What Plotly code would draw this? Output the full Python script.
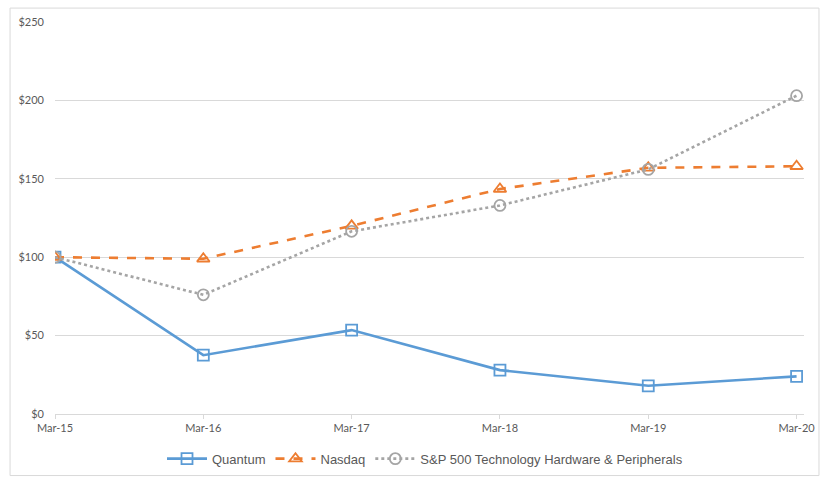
import plotly.graph_objects as go

# values
years = ["Mar-15", "Mar-16", "Mar-17", "Mar-18", "Mar-19", "Mar-20"]
quantum = [100, 37.5, 53.5, 28, 18, 24]
nasdaq = [100, 99, 120, 143.5, 157, 158]
sp_tech = [100, 76, 116.5, 133, 156, 203]
y_ticks = [0, 50, 100, 150, 200, 250]

series = [
    ("Quantum", quantum, "#5B9BD5", "solid", "square-open"),
    ("Nasdaq", nasdaq, "#ED7D31", "dash", "triangle-up-open"),
    ("S&P 500 Technology Hardware & Peripherals", sp_tech, "#A5A5A5", "dot", "circle-open"),
]

fig = go.Figure()
for name, vals, color, dash, symbol in series:
    fig.add_trace(go.Scatter(
        x=list(range(len(years))),
        y=vals,
        name=name,
        mode="lines+markers",
        line=dict(color=color, width=2.6, dash=dash),
        marker=dict(symbol=symbol, size=11, color=color, line=dict(width=1.8, color=color)),
    ))

fig.update_layout(
    width=828,
    height=486,
    margin=dict(l=55, r=24, t=22, b=70),
    plot_bgcolor="white",
    paper_bgcolor="white",
    font=dict(family="Lato, Liberation Sans, sans-serif", size=11, color="#595959"),
    xaxis=dict(
        range=[0, 5.05],
        tickmode="array",
        tickvals=list(range(len(years))),
        ticktext=years,
        showgrid=False,
        zeroline=False,
        showline=True,
        linecolor="#D9D9D9",
        linewidth=1,
        ticks="outside",
        ticklen=4,
        tickcolor="#D9D9D9",
    ),
    yaxis=dict(
        range=[0, 250],
        tickvals=y_ticks,
        ticktext=[f"${v}" for v in y_ticks],
        showgrid=True,
        gridcolor="#D9D9D9",
        gridwidth=1,
        zeroline=False,
        showline=False,
        ticks="",
        ticklabelstandoff=10,
    ),
    legend=dict(
        orientation="h",
        x=0.494,
        xanchor="center",
        y=-0.114,
        yanchor="middle",
        font=dict(family="Liberation Sans, Arial, sans-serif", size=13, color="#595959"),
        itemwidth=40,
        traceorder="normal",
    ),
    shapes=[
        dict(type="rect", xref="paper", yref="paper",
             x0=-0.060, x1=1.020, y0=-0.157, y1=1.0355,
             line=dict(color="#D9D9D9", width=1), fillcolor="rgba(0,0,0,0)", layer="below"),
    ],
)

# drop the page's default body margin so the figure sits at the window's corner
fig.write_html(
    "out.html",
    config={"displayModeBar": False},
    post_script="document.body.style.margin='0';",
)
